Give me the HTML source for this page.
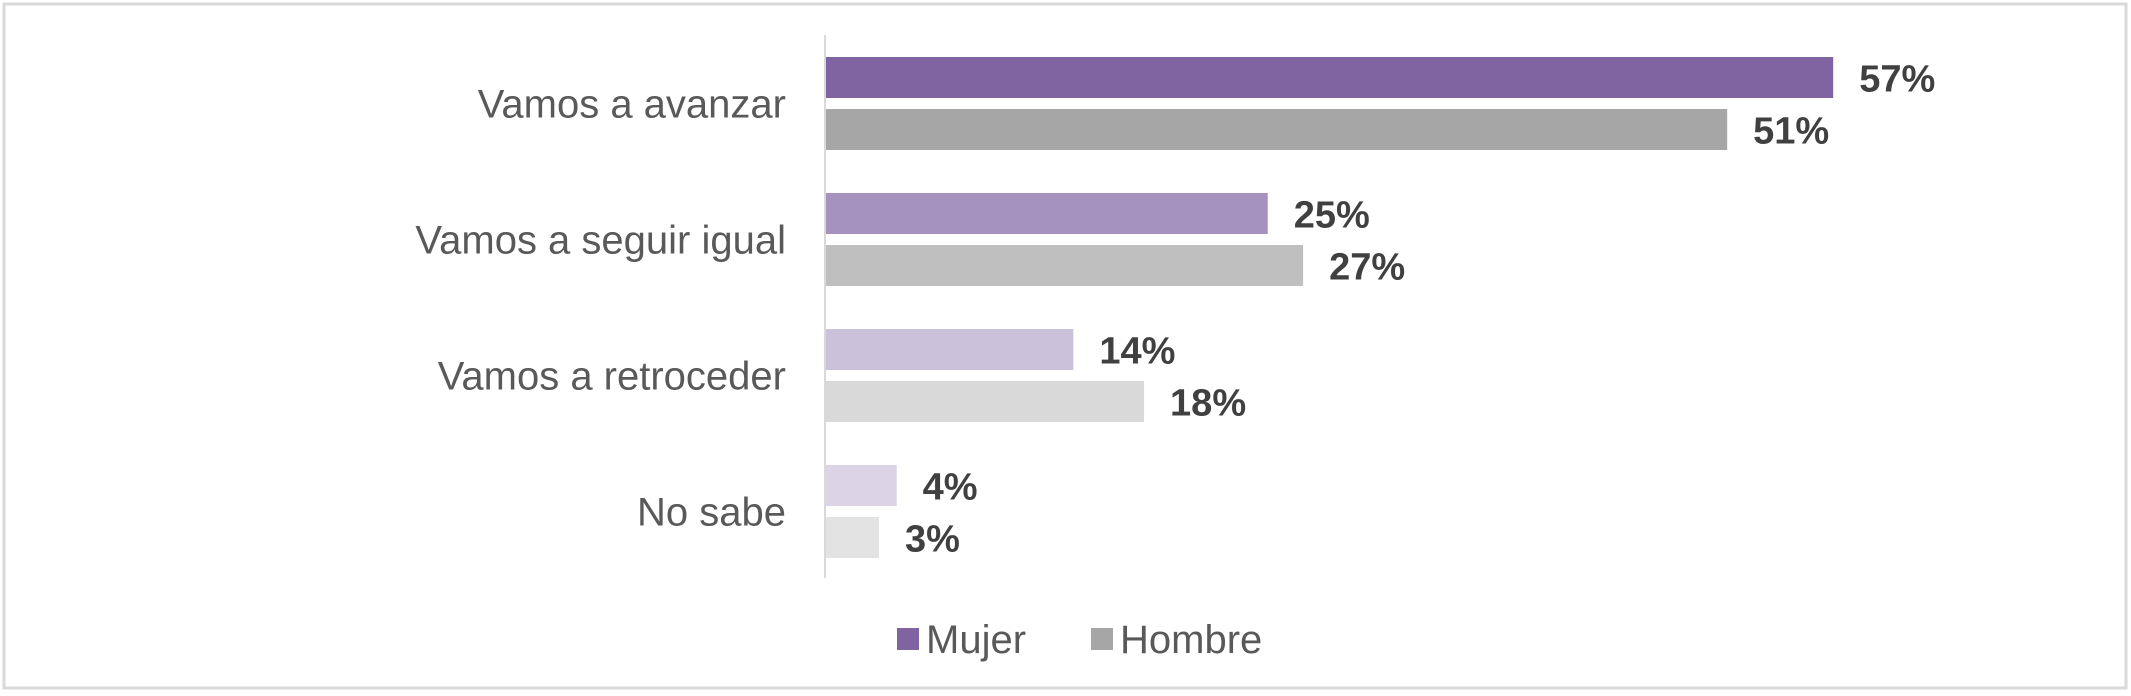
<!DOCTYPE html>
<html><head><meta charset="utf-8">
<style>
html,body{margin:0;padding:0;background:#fff;}
svg{display:block;font-family:"Liberation Sans Narrow","Liberation Sans",sans-serif;}
</style></head>
<body>
<svg id="chart" width="2131" height="696" viewBox="0 0 2131 696">
<rect x="4" y="4" width="2122" height="684" fill="#fff" stroke="#d9d9d9" stroke-width="3"/>
<line x1="825" y1="35" x2="825" y2="578" stroke="#d9d9d9" stroke-width="2"/>
<g id="bars"></g>
<g>
<rect x="897" y="628" width="22" height="22" fill="#8064A2"/>
<text x="926" y="653" font-size="40" fill="#595959">Mujer</text>
<rect x="1091" y="628" width="22" height="22" fill="#A6A6A6"/>
<text x="1120" y="653" font-size="40" fill="#595959">Hombre</text>
</g>
</svg>
<script>
const categories = ["Vamos a avanzar","Vamos a seguir igual","Vamos a retroceder","No sabe"];
const mujer = [57,25,14,4];
const hombre = [51,27,18,3];
const mujerColors = ["#8064A2","#A592BF","#CCC1DB","#DCD3E6"];
const hombreColors = ["#A6A6A6","#BFBFBF","#D9D9D9","#E3E3E3"];

const NS="http://www.w3.org/2000/svg";
const g=document.getElementById('bars');
const x0=826, pxPer=17.67;
const xScale=v=>v*pxPer;
const groupTop=i=>57+i*136;
const barH=41, gap=11;
function mk(tag,attrs){const e=document.createElementNS(NS,tag);for(const k in attrs)e.setAttribute(k,attrs[k]);g.appendChild(e);return e;}
categories.forEach((c,i)=>{
  const t=groupTop(i);
  const lab=mk('text',{x:786,y:t+barH+gap/2+14,'text-anchor':'end','font-size':40,fill:'#595959'});
  lab.textContent=c;
  
  
  [[mujer,mujerColors,0,'mujer'],[hombre,hombreColors,barH+gap,'hombre']].forEach(([arr,cols,off,nm])=>{
    const w=xScale(arr[i]);
    const r=mk('rect',{x:x0,y:t+off,width:w,height:barH,fill:cols[i]});
    
    
    const v=mk('text',{x:x0+w+26,y:t+off+barH/2+14,'font-size':38,'font-weight':'bold',fill:'#404040'});
    v.textContent=arr[i]+'%';
    
    
  });
});
</script>
</body></html>
